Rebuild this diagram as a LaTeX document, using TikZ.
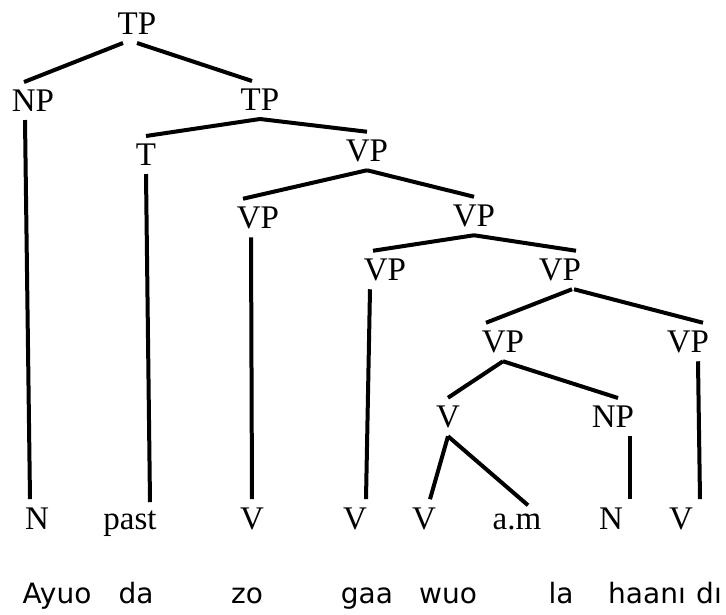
\documentclass[tikz,border=0pt]{standalone}
\usepackage{fontspec}
\setmainfont{Liberation Serif}
\newfontfamily\glossfont{DejaVu Sans}
\definecolor{ink}{HTML}{000000}
\tikzset{
  cat/.style={
    inner xsep=2pt,
    inner ysep=8pt,
    font=\fontsize{33}{33}\selectfont
  },
  leaf/.style={cat, anchor=base},
  word/.style={
    anchor=base,
    inner sep=0pt,
    font=\glossfont\fontsize{28}{28}\selectfont
  },
  branch/.style={draw=ink, line width=4pt}
}
\begin{document}
\begin{tikzpicture}[x=1pt, y=-1pt]
  \useasboundingbox (0,0) rectangle (726,614);

  % phrase labels
  \node[cat] (tp) at (137,24) {TP};
  \node[cat] (np) at (33,101) {NP};
  \node[cat] (tpb) at (260,100) {TP};
  \node[cat] (t) at (146,155) {T};
  \node[cat] (vpa) at (367,151) {VP};
  \node[cat] (vpb) at (258,218) {VP};
  \node[cat] (vpc) at (474,216) {VP};
  \node[cat] (vpd) at (385,270) {VP};
  \node[cat] (vpe) at (560,270) {VP};
  \node[cat] (vpf) at (503,342) {VP};
  \node[cat] (vpg) at (688,342) {VP};
  \node[cat] (vh) at (448,417) {V};
  \node[cat] (npb) at (613,417) {NP};

  % terminal categories
  \node[leaf] (n) at (37,529) {N};
  \node[leaf] (past) at (130,529) {past};
  \node[leaf] (va) at (252,529) {V};
  \node[leaf] (vb) at (355,529) {V};
  \node[leaf] (vc) at (424,529) {V};
  \node[leaf] (am) at (517,529) {a.m};
  \node[leaf] (nb) at (611,529) {N};
  \node[leaf] (vd) at (681,529) {V};

  % words
  \node[word] (ayuo) at (57,603) {Ayuo};
  \node[word] (da) at (136,603) {da};
  \node[word] (zo) at (247,603) {zo};
  \node[word] (gaa) at (367,603) {gaa};
  \node[word] (wuo) at (448,603) {wuo};
  \node[word] (la) at (561,603) {la};
  \node[word] (haani) at (647,603) {haanı};
  \node[word] (di) at (709,603) {dı};

  \draw[branch] ([xshift=-14pt]tp.south) -- ([xshift=-9pt]np.north);
  \draw[branch] (tp.south) -- ([xshift=-8pt]tpb.north);
  \draw[branch] ([xshift=-8pt]np.south) -- ([xshift=-7pt]n.north);
  \draw[branch] (tpb.south) -- (t.north);
  \draw[branch] (tpb.south) -- (vpa.north);
  \draw[branch] (t.south) -- ([xshift=20pt]past.north);
  \draw[branch] (vpa.south) -- ([xshift=-15pt]vpb.north);
  \draw[branch] (vpa.south) -- (vpc.north);
  \draw[branch] ([xshift=-7pt]vpb.south) -- (va.north);
  \draw[branch] (vpc.south) -- ([xshift=-12pt]vpd.north);
  \draw[branch] (vpc.south) -- ([xshift=16pt]vpe.north);
  \draw[branch] ([xshift=-15pt]vpd.south) -- ([xshift=11pt]vb.north);
  \draw[branch] ([xshift=12pt]vpe.south) -- ([xshift=-17pt]vpf.north);
  \draw[branch] ([xshift=14pt]vpe.south) -- ([xshift=15pt]vpg.north);
  \draw[branch] (vpf.south) -- (vh.north);
  \draw[branch] (vpf.south) -- ([xshift=5pt]npb.north);
  \draw[branch] ([xshift=10pt]vpg.south) -- ([xshift=19pt]vd.north);
  \draw[branch] (vh.south) -- ([xshift=6pt]vc.north);
  \draw[branch] (vh.south) -- ([xshift=11pt]am.north);
  \draw[branch] ([xshift=17pt]npb.south) -- ([xshift=19pt]nb.north);
\end{tikzpicture}
\end{document}
